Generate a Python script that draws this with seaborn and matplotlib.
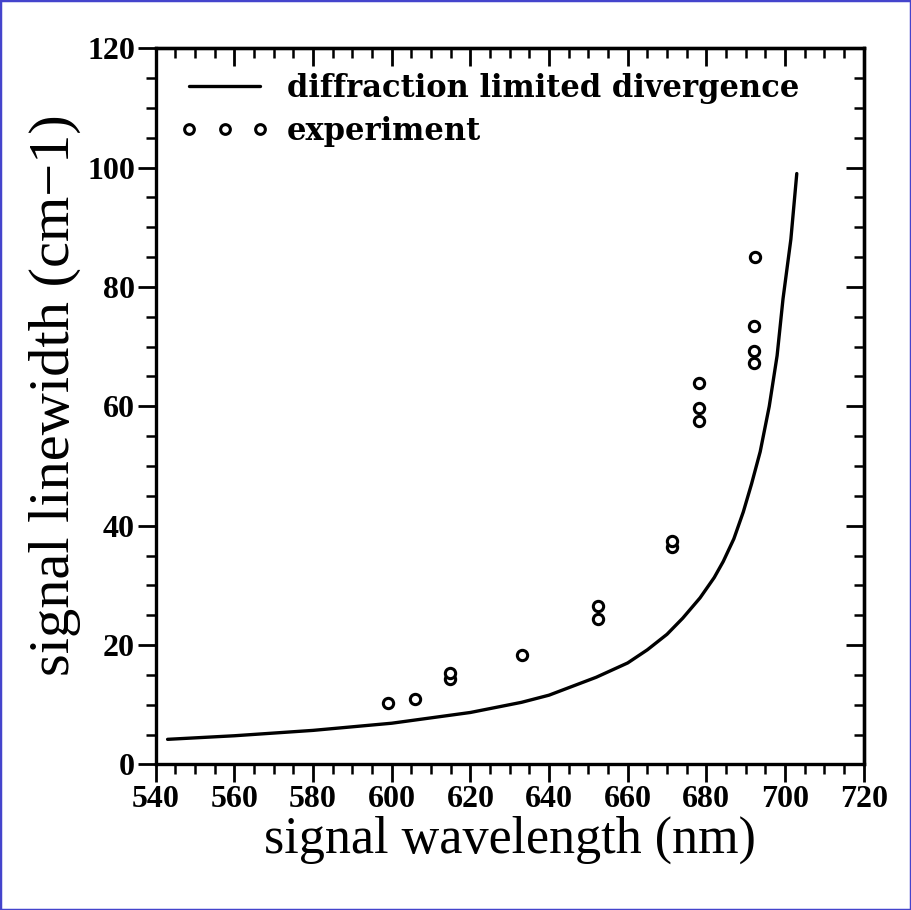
"""Signal linewidth vs signal wavelength: diffraction limit curve and measured points."""

import matplotlib
matplotlib.use("Agg")
import matplotlib.pyplot as plt  # noqa: E402
import seaborn as sns  # noqa: E402
import pandas as pd  # noqa: E402
from matplotlib.lines import Line2D  # noqa: E402
from matplotlib.patches import Rectangle  # noqa: E402

# diffraction limited divergence curve
curve_nm = [543, 560, 580, 600, 620, 633, 640, 652, 660, 665, 670, 674,
            678.4, 682, 684.3, 687, 689.4, 691.5, 693.7, 696, 698, 699.5,
            701.5, 703]
curve_cm = [4.2, 4.8, 5.7, 6.9, 8.7, 10.4, 11.6, 14.6, 17.0, 19.2, 21.8, 24.5,
            27.9, 31.3, 34.0, 37.8, 42.3, 47.0, 52.4, 60.0, 68.5, 78.0,
            88.0, 99.0]

# experiment points
exp_nm = [599.0, 605.8, 614.9, 614.9, 633.1, 652.4, 652.4, 671.3, 671.3,
          678.2, 678.2, 678.2, 692.2, 692.2, 692.2, 692.5]
exp_cm = [10.3, 10.9, 14.3, 15.3, 18.3, 24.4, 26.6, 36.5, 37.4,
          57.5, 59.7, 63.9, 67.3, 69.3, 73.5, 85.0]

x_ticks = list(range(540, 721, 20))
y_ticks = list(range(0, 121, 20))

sns.set_style("ticks")
plt.rcParams["font.family"] = ["Liberation Serif", "DejaVu Serif"]
plt.rcParams.update({"text.color": "black", "axes.labelcolor": "black",
                     "xtick.color": "black", "ytick.color": "black"})

curve = pd.DataFrame({"wavelength": curve_nm, "linewidth": curve_cm})
points = pd.DataFrame({"wavelength": exp_nm, "linewidth": exp_cm})

fig = plt.figure(figsize=(9.11, 9.10), dpi=100)
ax = fig.add_axes([0.171, 0.160, 0.777, 0.787])

sns.lineplot(data=curve, x="wavelength", y="linewidth", color="black",
             linewidth=2.4, sort=False, ax=ax)
sns.scatterplot(data=points, x="wavelength", y="linewidth", marker="o",
                s=55, facecolor="white", edgecolor="black", linewidth=2.2,
                zorder=3, ax=ax)

ax.set_xlim(540, 720)
ax.set_ylim(0, 120)
ax.set_xticks(x_ticks)
ax.set_yticks(y_ticks)
ax.set_xticks(range(540, 721, 5), minor=True)
ax.set_yticks(range(0, 121, 5), minor=True)
for s in ax.spines.values():
    s.set_linewidth(2.4)
    s.set_color("black")

tick_font = {"family": "Liberation Serif", "weight": "bold", "size": 23}
ax.set_xticklabels([str(v) for v in x_ticks], fontdict=tick_font)
ax.set_yticklabels([str(v) for v in y_ticks], fontdict=tick_font)
ax.tick_params(which="major", direction="out", length=13, width=2, pad=2,
               color="black")
ax.tick_params(which="minor", direction="out", length=7, width=1.8,
               color="black")

# top / right ticks point inward
top = ax.secondary_xaxis("top")
top.set_xticks(x_ticks)
top.set_xticks(range(540, 721, 5), minor=True)
top.set_xticklabels([])
top.tick_params(which="major", direction="in", length=13, width=2)
top.tick_params(which="minor", direction="in", length=7, width=1.8)
top.spines["top"].set_linewidth(2.4)
right = ax.secondary_yaxis("right")
right.set_yticks(y_ticks)
right.set_yticks(range(0, 121, 5), minor=True)
right.set_yticklabels([])
right.tick_params(which="major", direction="in", length=13, width=2)
right.tick_params(which="minor", direction="in", length=7, width=1.8)
right.spines["right"].set_linewidth(2.4)

ax.set_xlabel("signal wavelength (nm)",
              fontdict={"family": "Liberation Serif", "size": 37.5})
ax.set_ylabel("signal linewidth (cm\u22121)",
              fontdict={"family": "Liberation Serif", "size": 42})
ax.xaxis.set_label_coords(0.5, -0.106)
ax.xaxis.label.set_va("center")
ax.yaxis.set_label_coords(-0.143, 0.515)
ax.yaxis.label.set_va("center")

handles = [
    Line2D([], [], color="black", linewidth=2.4),
    Line2D([], [], color="black", linestyle="none", marker="o", markersize=7,
           markerfacecolor="white", markeredgewidth=2.2),
]
ax.legend(handles, ["diffraction limited divergence", "experiment"],
          loc="upper left", frameon=False, numpoints=3, handlelength=2.9,
          handletextpad=0.6, labelspacing=0.4, borderaxespad=0.4,
          prop={"family": "DejaVu Serif", "weight": "bold", "size": 22})

fig.patches.append(Rectangle((0, 0), 1, 1, transform=fig.transFigure,
                             fill=False, edgecolor="#4444cc", linewidth=2.5))

fig.savefig("out.png", dpi=100)
